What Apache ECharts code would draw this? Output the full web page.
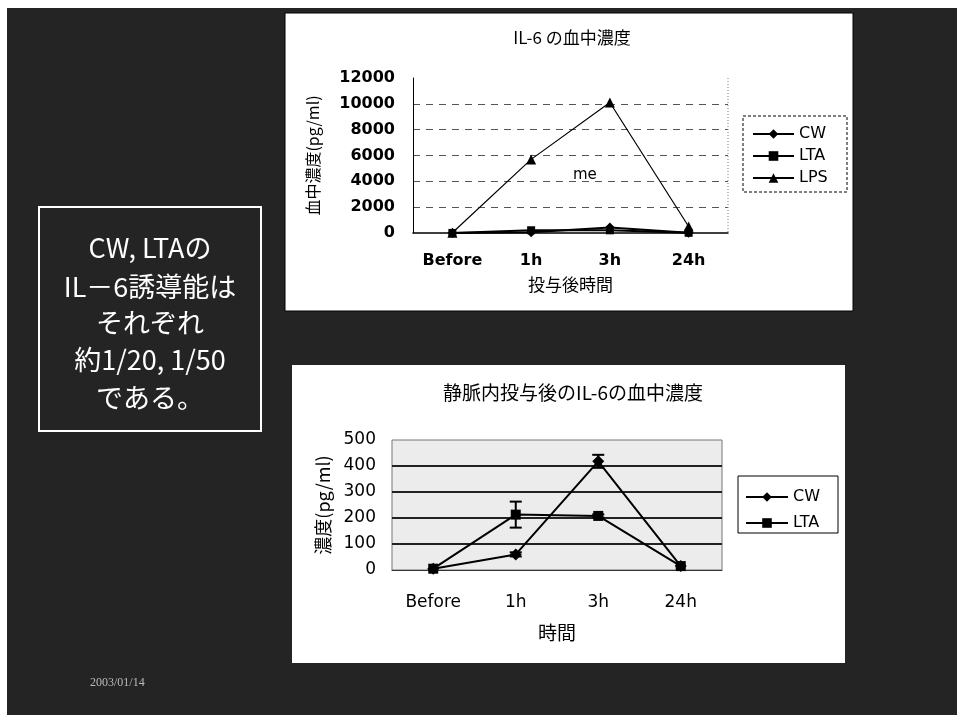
<!DOCTYPE html>
<html>
<head>
<meta charset="utf-8">
<script src="https://cdn.jsdelivr.net/npm/echarts@6/dist/echarts.min.js"></script>
<style>
  html, body { margin: 0; padding: 0; background: #fff; }
  #main { width: 957px; height: 715px; }
</style>
</head>
<body>
<div id="main"></div>
<script>
// 時間カテゴリ
var categories = ['Before', '1h', '3h', '24h'];

// IL-6 血中濃度 (pg/ml)
var cwValues = [5, 60, 418, 15];
var ltaValues = [5, 213, 208, 15];
var lpsValues = [20, 5700, 10100, 500];

// 誤差 (下のグラフ)
var cwErr = [0, 8, 25, 0];
var ltaErr = [0, 50, 6, 0];

// y軸の目盛
var topTicks = { min: 0, max: 12000, interval: 2000 };
var bottomTicks = { min: 0, max: 500, interval: 100 };

var boxLines = ['CW, LTAの', 'IL－6誘導能は', 'それぞれ', '約1/20, 1/50', 'である。'];

var jp = 'Noto Sans CJK JP';
var latin = 'DejaVu Sans';

function errorBars(values, errs) {
    var out = [];
    for (var i = 0; i < values.length; i++) {
        if (errs[i] > 0) out.push([i, values[i] - errs[i], values[i] + errs[i]]);
    }
    return out;
}

function renderErrorBar(params, api) {
    var lo = api.coord([api.value(0), api.value(1)]);
    var hi = api.coord([api.value(0), api.value(2)]);
    var w = 6;
    var st = { stroke: '#000', lineWidth: 2 };
    return {
        type: 'group',
        children: [
            { type: 'line', shape: { x1: lo[0], y1: lo[1], x2: hi[0], y2: hi[1] }, style: st },
            { type: 'line', shape: { x1: lo[0] - w, y1: lo[1], x2: lo[0] + w, y2: lo[1] }, style: st },
            { type: 'line', shape: { x1: hi[0] - w, y1: hi[1], x2: hi[0] + w, y2: hi[1] }, style: st }
        ]
    };
}

var graphics = [
    // slide background
    { type: 'rect', z: -20, shape: { x: 7, y: 8, width: 950, height: 707 }, style: { fill: '#242424' } },
    // chart panels
    { type: 'rect', z: -10, shape: { x: 285, y: 13, width: 568, height: 298 }, style: { fill: '#fff', stroke: '#000', lineWidth: 1 } },
    { type: 'rect', z: -10, shape: { x: 292, y: 365, width: 553, height: 298 }, style: { fill: '#fff' } },
    // text box
    { type: 'rect', z: 5, shape: { x: 39, y: 207, width: 222, height: 224 }, style: { fill: 'none', stroke: '#fff', lineWidth: 2 } },
    // legend boxes
    { type: 'rect', z: 1, shape: { x: 743, y: 116, width: 104, height: 76 }, style: { fill: 'none', stroke: '#000', lineWidth: 1, lineDash: [3, 2] } },
    { type: 'rect', z: 1, shape: { x: 738, y: 476, width: 100, height: 57 }, style: { fill: 'none', stroke: '#000', lineWidth: 1 } },
    // right edge of top plot
    { type: 'line', z: 1, shape: { x1: 728, y1: 78, x2: 728, y2: 233 }, style: { stroke: '#777', lineWidth: 1, lineDash: [1, 2] } },
    { type: 'text', z: 5, x: 573, y: 175, style: { text: 'me', fill: '#000', font: '15px "DejaVu Sans"', verticalAlign: 'middle' } },
    { type: 'text', z: 5, x: 90, y: 683, style: { text: '2003/01/14', fill: '#bbb', font: '12px serif', verticalAlign: 'middle' } }
];
var lineY = [248, 287, 323, 360, 398];
boxLines.forEach(function (t, i) {
    graphics.push({ type: 'text', z: 6, x: 150, y: lineY[i],
        style: { text: t, fill: '#fff', font: '27px "Noto Sans CJK JP"', align: 'center', verticalAlign: 'middle' } });
});

function plain(v) { return String(v); }

var option = {
    backgroundColor: '#fff',
    animation: false,
    title: [
        { text: 'IL-6 の血中濃度', left: 567, top: 24, textAlign: 'center',
          textStyle: { fontFamily: jp, fontSize: 17, fontWeight: 'normal', color: '#000' } },
        { text: '静脈内投与後のIL-6の血中濃度', left: 568, top: 378, textAlign: 'center',
          textStyle: { fontFamily: jp, fontSize: 19, fontWeight: 'normal', color: '#000' } }
    ],
    legend: [
        { orient: 'vertical', left: 747, top: 121, itemWidth: 41, itemHeight: 12, itemGap: 6,
          data: ['CW', 'LTA', 'LPS'], selectedMode: false,
          textStyle: { fontFamily: latin, fontSize: 16, color: '#000' } },
        { orient: 'vertical', left: 740, top: 484, itemWidth: 42, itemHeight: 12, itemGap: 10,
          data: ['CW', 'LTA'], selectedMode: false,
          textStyle: { fontFamily: latin, fontSize: 16, color: '#000' } }
    ],
    grid: [
        { left: 413, right: 229, top: 78, bottom: 482, show: false },
        { left: 392, right: 235, top: 440, bottom: 145, show: true,
          backgroundColor: '#ececec', borderColor: '#777', borderWidth: 1 }
    ],
    xAxis: [
        { type: 'category', gridIndex: 0, data: categories,
          name: '投与後時間', nameLocation: 'middle', nameGap: 43,
          nameTextStyle: { fontFamily: jp, fontSize: 17, color: '#000' },
          axisLine: { lineStyle: { color: '#000', width: 1.5 } },
          axisTick: { show: false },
          axisLabel: { margin: 20, fontFamily: latin, fontSize: 16, fontWeight: 'bold', color: '#000' } },
        { type: 'category', gridIndex: 1, data: categories,
          name: '時間', nameLocation: 'middle', nameGap: 53,
          nameTextStyle: { fontFamily: jp, fontSize: 19, color: '#000' },
          axisLine: { lineStyle: { color: '#333', width: 1 } },
          axisTick: { show: false },
          axisLabel: { margin: 24, fontFamily: latin, fontSize: 17, color: '#000' } }
    ],
    yAxis: [
        { type: 'value', gridIndex: 0, min: topTicks.min, max: topTicks.max, interval: topTicks.interval,
          name: '血中濃度(pg/ml)', nameLocation: 'middle', nameGap: 92, nameRotate: 90,
          nameTextStyle: { fontFamily: jp, fontSize: 16, color: '#000' },
          axisLine: { show: true, lineStyle: { color: '#000', width: 1 } },
          axisTick: { show: false },
          axisLabel: { margin: 18, fontFamily: latin, fontSize: 16, fontWeight: 'bold', color: '#000', formatter: plain },
          splitLine: { show: true, showMinLine: false, showMaxLine: false,
                       lineStyle: { color: '#555', width: 1, type: [7, 6] } } },
        { type: 'value', gridIndex: 1, min: bottomTicks.min, max: bottomTicks.max, interval: bottomTicks.interval,
          name: '濃度(pg/ml)', nameLocation: 'middle', nameGap: 60, nameRotate: 90,
          nameTextStyle: { fontFamily: jp, fontSize: 18, color: '#000' },
          axisLine: { show: false },
          axisTick: { show: false },
          axisLabel: { margin: 16, fontFamily: latin, fontSize: 17, color: '#000', formatter: plain },
          splitLine: { show: true, showMinLine: false, showMaxLine: false,
                       lineStyle: { color: '#222', width: 2 } } }
    ],
    graphic: graphics,
    series: [
        { name: 'CW', type: 'line', xAxisIndex: 0, yAxisIndex: 0, data: cwValues,
          symbol: 'diamond', symbolSize: 10, color: '#000', lineStyle: { color: '#000', width: 2 } },
        { name: 'LTA', type: 'line', xAxisIndex: 0, yAxisIndex: 0, data: ltaValues,
          symbol: 'rect', symbolSize: 8, color: '#000', lineStyle: { color: '#000', width: 2 } },
        { name: 'LPS', type: 'line', xAxisIndex: 0, yAxisIndex: 0, data: lpsValues,
          symbol: 'triangle', symbolSize: 10, color: '#000', lineStyle: { color: '#000', width: 1.2 } },
        { name: 'CW', type: 'line', xAxisIndex: 1, yAxisIndex: 1, data: cwValues,
          symbol: 'diamond', symbolSize: 12, color: '#000', lineStyle: { color: '#000', width: 2 } },
        { name: 'LTA', type: 'line', xAxisIndex: 1, yAxisIndex: 1, data: ltaValues,
          symbol: 'rect', symbolSize: 10, color: '#000', lineStyle: { color: '#000', width: 2 } },
        { type: 'custom', xAxisIndex: 1, yAxisIndex: 1, renderItem: renderErrorBar,
          encode: { x: 0, y: [1, 2] }, data: errorBars(cwValues, cwErr), z: 3 },
        { type: 'custom', xAxisIndex: 1, yAxisIndex: 1, renderItem: renderErrorBar,
          encode: { x: 0, y: [1, 2] }, data: errorBars(ltaValues, ltaErr), z: 3 }
    ]
};

var chart = echarts.init(document.getElementById('main'));
chart.setOption(option);
</script>
</body>
</html>
